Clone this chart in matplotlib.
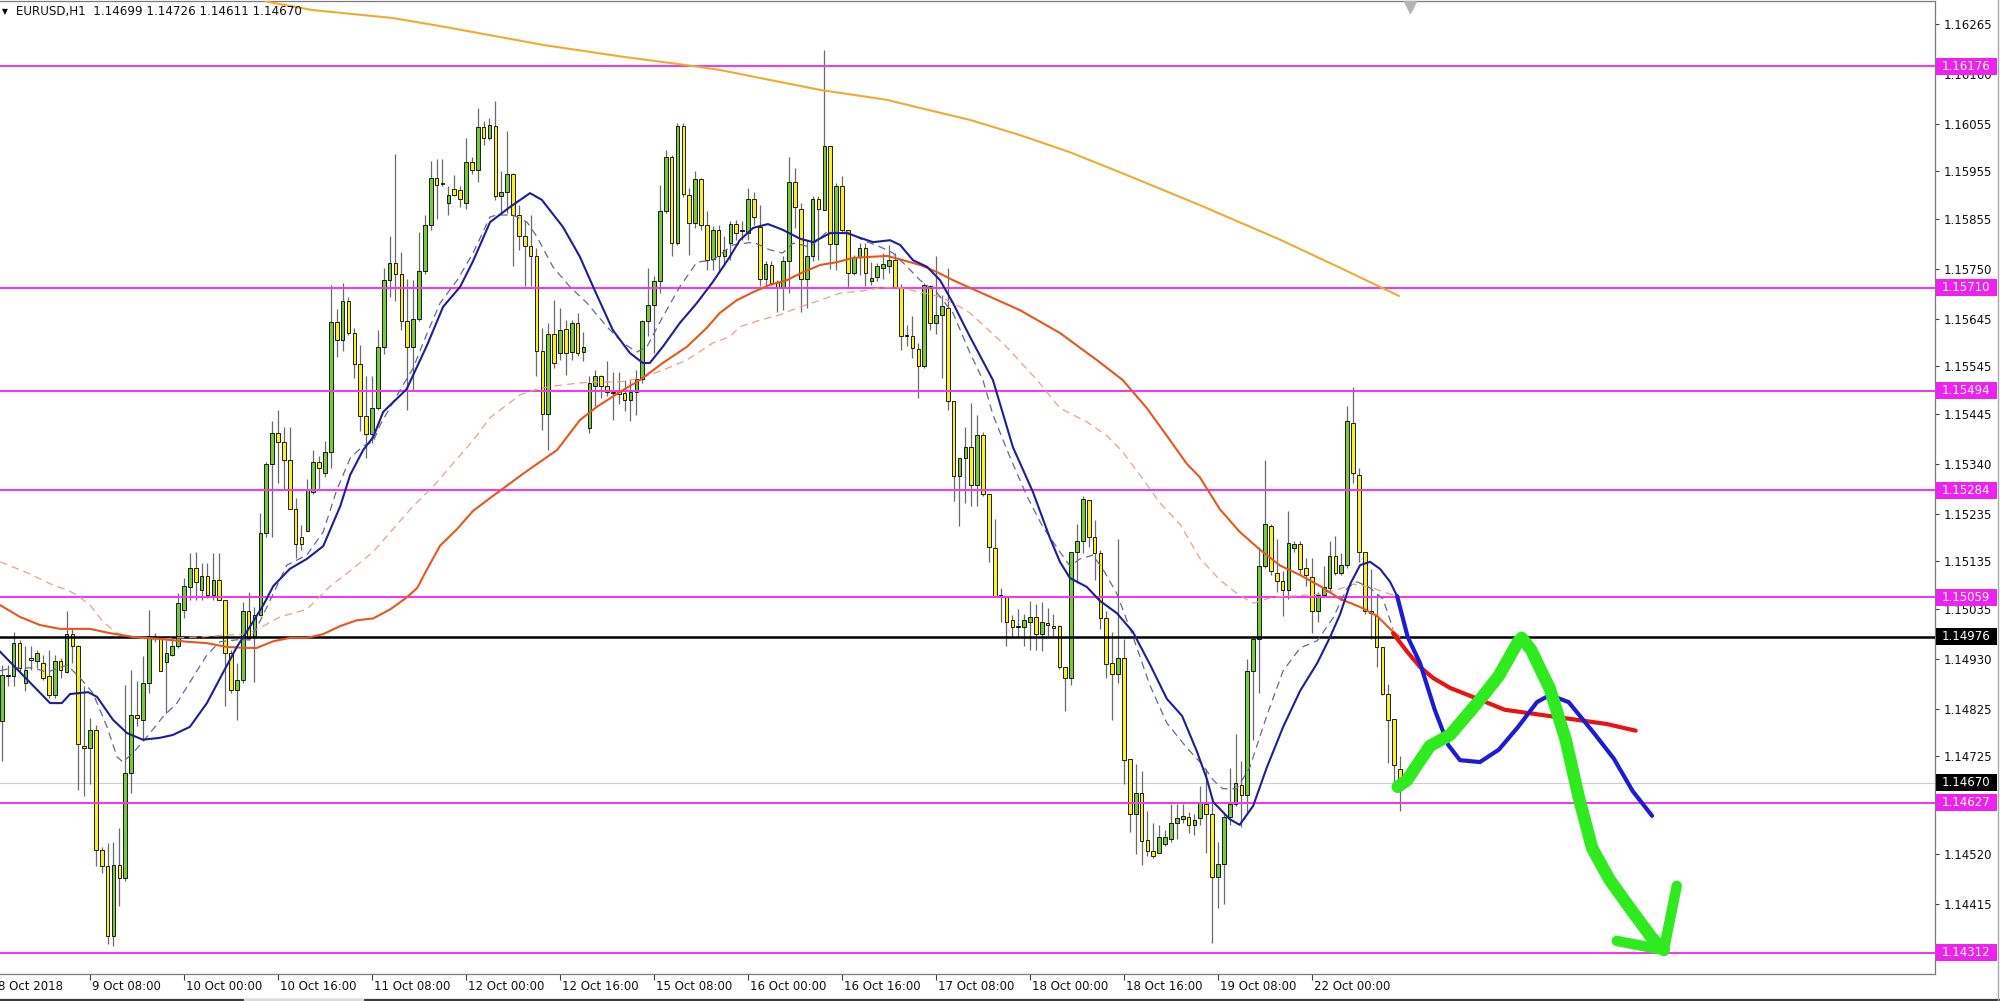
import matplotlib.pyplot as plt
import matplotlib.transforms as mtransforms
from matplotlib.patches import Rectangle
from matplotlib.lines import Line2D
import numpy as np

# EURUSD H1 candles, 8 Oct 17:00 .. 22 Oct 15:00
opens = [1.14799, 1.14893, 1.14893, 1.14963, 1.14880, 1.14931, 1.14925, 1.14921,
         1.14893, 1.14855, 1.14925, 1.14903, 1.14982, 1.14956, 1.14746, 1.14742,
         1.14781, 1.14529, 1.14494, 1.14347, 1.14497, 1.14469, 1.14690, 1.14813,
         1.14802, 1.14879, 1.14977, 1.14971, 1.14924, 1.14939, 1.14956, 1.15033,
         1.15080, 1.15120, 1.15075, 1.15104, 1.15065, 1.15095, 1.15054, 1.14942,
         1.14865, 1.14886, 1.15030, 1.14978, 1.15022, 1.15195, 1.15340, 1.15405,
         1.15385, 1.15348, 1.15244, 1.15187, 1.15199, 1.15280, 1.15344, 1.15320,
         1.15364, 1.15638, 1.15600, 1.15682, 1.15616, 1.15550, 1.15441, 1.15403,
         1.15457, 1.15586, 1.15727, 1.15763, 1.15739, 1.15640, 1.15586, 1.15644,
         1.15745, 1.15841, 1.15940, 1.15930, 1.15889, 1.15917, 1.15915, 1.15889,
         1.15974, 1.15958, 1.16049, 1.16025, 1.16050, 1.15902, 1.15912, 1.15950,
         1.15864, 1.15818, 1.15797, 1.15776, 1.15577, 1.15444, 1.15612, 1.15573,
         1.15623, 1.15574, 1.15637, 1.15574, 1.15416, 1.15503, 1.15525, 1.15504,
         1.15492, 1.15494, 1.15489, 1.15474, 1.15492, 1.15518, 1.15641, 1.15674,
         1.15724, 1.15872, 1.15986, 1.15804, 1.16050, 1.15906, 1.15846, 1.15938,
         1.15843, 1.15770, 1.15832, 1.15776, 1.15804, 1.15844, 1.15830, 1.15826,
         1.15897, 1.15838, 1.15728, 1.15758, 1.15723, 1.15710, 1.15767, 1.15932,
         1.15875, 1.15729, 1.15776, 1.15896, 1.15873, 1.16008, 1.15803, 1.15923,
         1.15831, 1.15741, 1.15775, 1.15794, 1.15724, 1.15732, 1.15752, 1.15756,
         1.15769, 1.15712, 1.15609, 1.15608, 1.15581, 1.15545, 1.15714, 1.15636,
         1.15653, 1.15667, 1.15472, 1.15314, 1.15353, 1.15376, 1.15295, 1.15400,
         1.15277, 1.15163, 1.15063, 1.15061, 1.15012, 1.14997, 1.14997, 1.15007,
         1.15017, 1.14982, 1.15005, 1.14998, 1.14998, 1.14912, 1.14890, 1.15155,
         1.15177, 1.15264, 1.15186, 1.15152, 1.15016, 1.14921, 1.14898, 1.14931,
         1.14720, 1.14603, 1.14649, 1.14550, 1.14526, 1.14522, 1.14541, 1.14552,
         1.14585, 1.14593, 1.14598, 1.14580, 1.14596, 1.14625, 1.14603, 1.14471,
         1.14498, 1.14597, 1.14625, 1.14664, 1.14644, 1.14905, 1.14972, 1.15126,
         1.15209, 1.15110, 1.15093, 1.15075, 1.15162, 1.15172, 1.15120, 1.15103,
         1.15031, 1.15065, 1.15079, 1.15146, 1.15110, 1.15128, 1.15426, 1.15316,
         1.15154, 1.15031, 1.15020, 1.14954, 1.14856, 1.14804, 1.14699]
highs = [1.14918, 1.14918, 1.14987, 1.14970, 1.14956, 1.14956, 1.14949, 1.14938,
         1.14949, 1.14938, 1.14931, 1.15030, 1.14995, 1.14960, 1.14872, 1.14806,
         1.14790, 1.14535, 1.14543, 1.14546, 1.14575, 1.14876, 1.14907, 1.14883,
         1.14935, 1.15033, 1.14985, 1.14975, 1.14970, 1.14970, 1.15068, 1.15100,
         1.15152, 1.15155, 1.15131, 1.15131, 1.15152, 1.15152, 1.15054, 1.14949,
         1.14921, 1.15050, 1.15071, 1.15040, 1.15236, 1.15344, 1.15429, 1.15453,
         1.15417, 1.15417, 1.15268, 1.15211, 1.15308, 1.15368, 1.15356, 1.15389,
         1.15715, 1.15666, 1.15720, 1.15690, 1.15626, 1.15590, 1.15525, 1.15525,
         1.15622, 1.15751, 1.15819, 1.15992, 1.15785, 1.15728, 1.15727, 1.15827,
         1.15863, 1.15976, 1.15980, 1.15980, 1.15924, 1.15948, 1.15925, 1.16025,
         1.15985, 1.16089, 1.16061, 1.16067, 1.16102, 1.15955, 1.16039, 1.15952,
         1.15885, 1.15850, 1.15864, 1.15794, 1.15626, 1.15636, 1.15685, 1.15668,
         1.15643, 1.15643, 1.15656, 1.15618, 1.15524, 1.15538, 1.15527, 1.15556,
         1.15534, 1.15534, 1.15517, 1.15517, 1.15538, 1.15643, 1.15751, 1.15734,
         1.15927, 1.16000, 1.15990, 1.16056, 1.16056, 1.15920, 1.15955, 1.15940,
         1.15871, 1.15839, 1.15842, 1.15818, 1.15850, 1.15853, 1.15850, 1.15919,
         1.15912, 1.15884, 1.15766, 1.15766, 1.15727, 1.15776, 1.15986, 1.15962,
         1.15888, 1.15811, 1.15903, 1.15903, 1.16210, 1.16008, 1.15930, 1.15944,
         1.15832, 1.15778, 1.15805, 1.15804, 1.15765, 1.15763, 1.15783, 1.15801,
         1.15783, 1.15717, 1.15632, 1.15650, 1.15594, 1.15720, 1.15716, 1.15776,
         1.15695, 1.15752, 1.15472, 1.15353, 1.15417, 1.15468, 1.15442, 1.15406,
         1.15277, 1.15225, 1.15078, 1.15061, 1.15023, 1.15034, 1.15024, 1.15052,
         1.15045, 1.15049, 1.15037, 1.15024, 1.15001, 1.14912, 1.15155, 1.15214,
         1.15273, 1.15264, 1.15222, 1.15159, 1.15030, 1.14986, 1.15181, 1.14971,
         1.14720, 1.14710, 1.14695, 1.14611, 1.14585, 1.14581, 1.14570, 1.14625,
         1.14625, 1.14625, 1.14607, 1.14603, 1.14662, 1.14699, 1.14640, 1.14546,
         1.14609, 1.14700, 1.14771, 1.14715, 1.14929, 1.14972, 1.15166, 1.15347,
         1.15213, 1.15181, 1.15114, 1.15241, 1.15178, 1.15178, 1.15142, 1.15142,
         1.15071, 1.15126, 1.15178, 1.15189, 1.15152, 1.15462, 1.15501, 1.15332,
         1.15154, 1.15118, 1.15067, 1.14954, 1.14877, 1.14804, 1.14726]
lows = [1.14715, 1.14872, 1.14872, 1.14903, 1.14862, 1.14907, 1.14910, 1.14886,
        1.14848, 1.14848, 1.14890, 1.14900, 1.14921, 1.14655, 1.14641, 1.14666,
        1.14494, 1.14480, 1.14330, 1.14326, 1.14410, 1.14462, 1.14648, 1.14788,
        1.14760, 1.14858, 1.14965, 1.14904, 1.14816, 1.14935, 1.14952, 1.15016,
        1.15054, 1.15054, 1.15054, 1.15058, 1.15054, 1.15054, 1.14830, 1.14858,
        1.14802, 1.14879, 1.14970, 1.14881, 1.15020, 1.15187, 1.15187, 1.15300,
        1.15288, 1.15244, 1.15143, 1.15159, 1.15199, 1.15276, 1.15284, 1.15312,
        1.15332, 1.15564, 1.15578, 1.15611, 1.15521, 1.15409, 1.15352, 1.15384,
        1.15453, 1.15570, 1.15690, 1.15682, 1.15622, 1.15453, 1.15493, 1.15640,
        1.15740, 1.15831, 1.15855, 1.15925, 1.15863, 1.15902, 1.15880, 1.15876,
        1.15950, 1.15932, 1.16010, 1.16021, 1.15895, 1.15867, 1.15867, 1.15755,
        1.15790, 1.15713, 1.15713, 1.15524, 1.15412, 1.15370, 1.15541, 1.15559,
        1.15527, 1.15559, 1.15566, 1.15556, 1.15405, 1.15461, 1.15479, 1.15482,
        1.15433, 1.15465, 1.15450, 1.15429, 1.15443, 1.15510, 1.15608, 1.15573,
        1.15699, 1.15867, 1.15776, 1.15800, 1.15900, 1.15780, 1.15835, 1.15832,
        1.15748, 1.15748, 1.15741, 1.15755, 1.15769, 1.15811, 1.15811, 1.15811,
        1.15843, 1.15713, 1.15713, 1.15716, 1.15660, 1.15664, 1.15699, 1.15836,
        1.15660, 1.15667, 1.15766, 1.15769, 1.15873, 1.15750, 1.15748, 1.15825,
        1.15710, 1.15737, 1.15737, 1.15714, 1.15716, 1.15724, 1.15728, 1.15741,
        1.15710, 1.15580, 1.15587, 1.15562, 1.15478, 1.15541, 1.15622, 1.15612,
        1.15520, 1.15454, 1.15262, 1.15209, 1.15258, 1.15251, 1.15251, 1.15273,
        1.15133, 1.15063, 1.15008, 1.14957, 1.14975, 1.14975, 1.14957, 1.14949,
        1.14949, 1.14946, 1.14979, 1.14975, 1.14909, 1.14821, 1.14876, 1.15089,
        1.15152, 1.15166, 1.15096, 1.14993, 1.14890, 1.14802, 1.14880, 1.14666,
        1.14567, 1.14519, 1.14497, 1.14515, 1.14511, 1.14522, 1.14537, 1.14545,
        1.14552, 1.14585, 1.14563, 1.14559, 1.14581, 1.14522, 1.14332, 1.14407,
        1.14415, 1.14581, 1.14621, 1.14577, 1.14605, 1.14759, 1.14858, 1.15120,
        1.15106, 1.15071, 1.15020, 1.15055, 1.15154, 1.15106, 1.15083, 1.14984,
        1.15008, 1.15061, 1.15071, 1.15106, 1.15106, 1.15122, 1.15300, 1.15134,
        1.15024, 1.14972, 1.14913, 1.14854, 1.14711, 1.14672, 1.14611]
closes = [1.14897, 1.14897, 1.14963, 1.14910, 1.14907, 1.14927, 1.14942, 1.14890,
          1.14855, 1.14925, 1.14907, 1.14982, 1.14956, 1.14750, 1.14742, 1.14781,
          1.14529, 1.14494, 1.14347, 1.14497, 1.14469, 1.14690, 1.14813, 1.14806,
          1.14879, 1.14977, 1.14972, 1.14904, 1.14942, 1.14956, 1.15048, 1.15083,
          1.15120, 1.15092, 1.15104, 1.15065, 1.15095, 1.15054, 1.14942, 1.14865,
          1.14886, 1.15030, 1.14974, 1.15022, 1.15195, 1.15340, 1.15405, 1.15385,
          1.15348, 1.15244, 1.15171, 1.15171, 1.15284, 1.15344, 1.15332, 1.15364,
          1.15638, 1.15600, 1.15682, 1.15616, 1.15550, 1.15441, 1.15403, 1.15457,
          1.15586, 1.15727, 1.15763, 1.15739, 1.15640, 1.15586, 1.15644, 1.15745,
          1.15841, 1.15940, 1.15926, 1.15928, 1.15905, 1.15905, 1.15897, 1.15974,
          1.15958, 1.16049, 1.16025, 1.16053, 1.15902, 1.15912, 1.15950, 1.15864,
          1.15818, 1.15797, 1.15776, 1.15577, 1.15444, 1.15612, 1.15552, 1.15622,
          1.15573, 1.15635, 1.15573, 1.15586, 1.15509, 1.15524, 1.15503, 1.15492,
          1.15489, 1.15487, 1.15474, 1.15492, 1.15518, 1.15641, 1.15674, 1.15724,
          1.15872, 1.15986, 1.15804, 1.16050, 1.15908, 1.15846, 1.15938, 1.15843,
          1.15769, 1.15832, 1.15776, 1.15790, 1.15844, 1.15825, 1.15830, 1.15897,
          1.15859, 1.15728, 1.15760, 1.15721, 1.15712, 1.15767, 1.15932, 1.15880,
          1.15729, 1.15776, 1.15896, 1.15875, 1.16008, 1.15803, 1.15923, 1.15831,
          1.15742, 1.15775, 1.15794, 1.15742, 1.15731, 1.15756, 1.15760, 1.15769,
          1.15712, 1.15609, 1.15609, 1.15584, 1.15545, 1.15716, 1.15636, 1.15653,
          1.15671, 1.15472, 1.15314, 1.15353, 1.15376, 1.15295, 1.15400, 1.15277,
          1.15166, 1.15063, 1.15063, 1.15008, 1.14997, 1.14997, 1.15012, 1.15019,
          1.14982, 1.15008, 1.15002, 1.14995, 1.14912, 1.14890, 1.15155, 1.15177,
          1.15266, 1.15186, 1.15152, 1.15016, 1.14920, 1.14898, 1.14931, 1.14717,
          1.14603, 1.14649, 1.14548, 1.14526, 1.14515, 1.14556, 1.14556, 1.14585,
          1.14595, 1.14600, 1.14581, 1.14592, 1.14627, 1.14603, 1.14471, 1.14498,
          1.14597, 1.14625, 1.14668, 1.14644, 1.14905, 1.14972, 1.15126, 1.15213,
          1.15114, 1.15093, 1.15075, 1.15174, 1.15172, 1.15118, 1.15106, 1.15031,
          1.15065, 1.15080, 1.15146, 1.15110, 1.15128, 1.15430, 1.15320, 1.15154,
          1.15031, 1.15027, 1.14954, 1.14856, 1.14802, 1.14706, 1.14670]

# time axis labels (bar number from the first candle)
x_labels = ["8 Oct 2018", "9 Oct 08:00", "10 Oct 00:00", "10 Oct 16:00", "11 Oct 08:00",
            "12 Oct 00:00", "12 Oct 16:00", "15 Oct 08:00", "16 Oct 00:00", "16 Oct 16:00",
            "17 Oct 08:00", "18 Oct 00:00", "18 Oct 16:00", "19 Oct 08:00", "22 Oct 00:00"]
x_label_bars = [-1, 15, 31, 47, 63, 79, 95, 111, 127, 143, 159, 175, 191, 207, 223]

# 1.14620 sits fully under the 1.14627 tag, so it is left out
price_ticks = [1.16265, 1.16160, 1.16055, 1.15955, 1.15855, 1.15750, 1.15645, 1.15545,
               1.15445, 1.15340, 1.15235, 1.15135, 1.15035, 1.14930, 1.14825, 1.14725,
               1.14520, 1.14415, 1.14315]

levels = [1.16176, 1.15710, 1.15494, 1.15284, 1.15059, 1.14627, 1.14312]
black_level = 1.14976
last_price = 1.14670
title = "EURUSD,H1  1.14699 1.14726 1.14611 1.14670"

# indicator lines: (bar, price)
ma_fast = [(-0.3, 1.14945), (8.2, 1.14837), (10.2, 1.14837), (11.6, 1.14856), (14.7, 1.14860),
           (16.2, 1.14850), (18.9, 1.14802), (21.3, 1.14774), (24.0, 1.14760), (26.9, 1.14764),
           (29.1, 1.14770), (32.0, 1.14787), (34.9, 1.14837), (37.6, 1.14900), (40.0, 1.14955),
           (42.2, 1.14997), (44.5, 1.15043), (46.2, 1.15083), (49.0, 1.15119), (51.9, 1.15140),
           (54.7, 1.15167), (57.6, 1.15251), (59.3, 1.15317), (61.5, 1.15369), (63.2, 1.15396),
           (64.9, 1.15449), (68.9, 1.15497), (72.4, 1.15590), (75.1, 1.15670), (78.0, 1.15712),
           (80.2, 1.15766), (83.1, 1.15848), (86.5, 1.15880), (89.9, 1.15909), (91.9, 1.15895),
           (95.5, 1.15838), (98.4, 1.15775), (100.9, 1.15705), (104.0, 1.15621), (106.9, 1.15573),
           (109.1, 1.15552), (110.3, 1.15552), (112.5, 1.15586), (115.4, 1.15636), (118.3, 1.15678),
           (121.0, 1.15722), (123.9, 1.15775), (125.6, 1.15810), (127.9, 1.15836), (130.4, 1.15844),
           (132.9, 1.15832), (135.9, 1.15813), (138.1, 1.15806), (141.0, 1.15825), (143.9, 1.15825),
           (146.1, 1.15815), (148.3, 1.15806), (151.2, 1.15810), (152.9, 1.15800), (155.1, 1.15768),
           (157.5, 1.15754), (159.7, 1.15726), (161.9, 1.15678), (163.6, 1.15636), (164.8, 1.15607),
           (168.7, 1.15516), (172.1, 1.15375), (175.5, 1.15281), (178.4, 1.15184), (180.1, 1.15134),
           (181.8, 1.15100), (184.7, 1.15081), (186.9, 1.15052), (189.8, 1.15026), (192.5, 1.14987),
           (195.4, 1.14919), (198.3, 1.14846), (200.9, 1.14810), (203.4, 1.14736), (205.1, 1.14678),
           (206.2, 1.14629), (209.0, 1.14593), (210.7, 1.14581), (213.0, 1.14621), (215.3, 1.14701),
           (218.1, 1.14787), (221.0, 1.14863), (223.9, 1.14921), (226.1, 1.14976), (227.8, 1.15024),
           (229.5, 1.15087), (231.2, 1.15127), (232.9, 1.15134), (234.6, 1.15119), (236.3, 1.15092),
           (237.5, 1.15062)]

ma_fast_dash = [(-0.3, 1.14905), (1.9, 1.14911), (5.3, 1.14911), (7.7, 1.14902), (11.1, 1.14917),
                (13.3, 1.14890), (15.5, 1.14858), (17.9, 1.14787), (19.6, 1.14724), (20.6, 1.14713),
                (22.3, 1.14732), (24.7, 1.14766), (27.4, 1.14808), (29.8, 1.14837), (32.0, 1.14881),
                (34.9, 1.14938), (37.1, 1.14966), (40.0, 1.14970), (42.2, 1.14970), (43.9, 1.15008),
                (46.2, 1.15067), (48.5, 1.15127), (51.9, 1.15148), (54.7, 1.15197), (57.0, 1.15285),
                (59.3, 1.15352), (61.5, 1.15378), (63.2, 1.15386), (64.4, 1.15422), (67.3, 1.15485),
                (70.0, 1.15541), (72.4, 1.15615), (74.6, 1.15678), (77.5, 1.15726), (80.2, 1.15783),
                (83.1, 1.15859), (84.3, 1.15863), (87.0, 1.15863), (89.4, 1.15848), (91.1, 1.15817),
                (93.8, 1.15754), (96.7, 1.15712), (99.6, 1.15678), (103.0, 1.15628), (105.7, 1.15594),
                (108.1, 1.15575), (109.8, 1.15586), (112.5, 1.15649), (115.4, 1.15712), (118.3, 1.15764),
                (121.0, 1.15768), (124.4, 1.15800), (127.9, 1.15806), (130.7, 1.15790), (132.9, 1.15783),
                (134.7, 1.15804), (137.6, 1.15796), (140.4, 1.15827), (143.9, 1.15827), (146.6, 1.15810),
                (149.5, 1.15796), (151.7, 1.15783), (154.1, 1.15754), (156.3, 1.15726), (159.2, 1.15699),
                (161.9, 1.15657), (164.8, 1.15573), (167.0, 1.15516), (168.7, 1.15443), (171.6, 1.15354),
                (174.5, 1.15272), (177.2, 1.15207), (180.1, 1.15155), (181.8, 1.15125), (183.5, 1.15140),
                (185.7, 1.15148), (187.4, 1.15119), (189.8, 1.15067), (192.5, 1.14978), (195.4, 1.14875),
                (198.3, 1.14795), (201.7, 1.14743), (204.4, 1.14707), (206.2, 1.14675), (207.8, 1.14657),
                (210.2, 1.14657), (212.4, 1.14701), (215.3, 1.14810), (218.1, 1.14905), (221.0, 1.14953),
                (223.9, 1.14968), (226.6, 1.15016), (229.0, 1.15079), (230.7, 1.15092), (232.9, 1.15079),
                (235.1, 1.15056), (236.8, 1.14993)]

ma_slow = [(-0.3, 1.15043), (3.1, 1.15018), (6.5, 1.15001), (9.9, 1.14993), (15.0, 1.14993),
           (18.4, 1.14984), (22.3, 1.14976), (26.9, 1.14972), (31.5, 1.14966), (34.9, 1.14963),
           (38.3, 1.14955), (41.7, 1.14953), (43.4, 1.14953), (46.2, 1.14967), (49.0, 1.14974),
           (51.9, 1.14974), (54.7, 1.14982), (57.6, 1.14999), (60.4, 1.15011), (63.2, 1.15015),
           (66.1, 1.15034), (68.9, 1.15059), (70.7, 1.15079), (72.4, 1.15119), (74.6, 1.15168),
           (77.5, 1.15203), (80.2, 1.15241), (83.1, 1.15268), (88.7, 1.15319), (94.5, 1.15369),
           (98.4, 1.15432), (101.3, 1.15460), (105.2, 1.15491), (108.6, 1.15516), (112.5, 1.15552),
           (116.6, 1.15586), (120.0, 1.15626), (122.2, 1.15657), (125.1, 1.15684), (127.9, 1.15701),
           (130.7, 1.15716), (133.6, 1.15726), (136.4, 1.15743), (139.3, 1.15758), (142.2, 1.15764),
           (144.9, 1.15773), (147.8, 1.15775), (150.7, 1.15777), (153.4, 1.15768), (156.3, 1.15758),
           (159.2, 1.15743), (161.9, 1.15726), (164.8, 1.15710), (173.3, 1.15663), (180.1, 1.15615),
           (186.4, 1.15558), (190.8, 1.15516), (194.9, 1.15457), (198.3, 1.15399), (201.7, 1.15340),
           (203.9, 1.15312), (207.3, 1.15245), (210.7, 1.15197), (214.2, 1.15159), (217.6, 1.15126),
           (221.0, 1.15106), (224.4, 1.15083), (227.8, 1.15056), (231.2, 1.15039), (234.1, 1.15020),
           (236.3, 1.14993), (237.9, 1.14976)]

ma_slow_dash = [(-0.3, 1.15134), (4.3, 1.15111), (8.7, 1.15085), (11.1, 1.15075), (12.8, 1.15064),
                (15.0, 1.15043), (17.2, 1.15008), (19.6, 1.14984), (22.3, 1.14976), (25.7, 1.14970),
                (29.8, 1.14974), (33.7, 1.14976), (38.3, 1.14980), (41.7, 1.14982), (43.9, 1.14995),
                (47.3, 1.15018), (51.9, 1.15034), (55.9, 1.15083), (59.3, 1.15115), (63.2, 1.15155),
                (66.6, 1.15203), (70.0, 1.15251), (73.4, 1.15292), (76.8, 1.15341), (80.2, 1.15389),
                (83.1, 1.15437), (84.8, 1.15453), (88.2, 1.15485), (91.6, 1.15499), (95.5, 1.15506),
                (100.1, 1.15512), (105.2, 1.15512), (108.6, 1.15520), (112.5, 1.15537), (116.6, 1.15558),
                (121.0, 1.15594), (123.9, 1.15607), (125.6, 1.15628), (129.0, 1.15642), (132.4, 1.15653),
                (135.9, 1.15670), (139.3, 1.15684), (142.7, 1.15699), (146.1, 1.15703), (149.5, 1.15710),
                (152.9, 1.15710), (156.3, 1.15701), (159.7, 1.15691), (163.1, 1.15670), (164.8, 1.15657),
                (170.7, 1.15590), (176.2, 1.15516), (180.1, 1.15457), (184.7, 1.15428), (188.1, 1.15399),
                (190.8, 1.15365), (193.7, 1.15317), (197.1, 1.15258), (200.5, 1.15214), (203.9, 1.15142),
                (207.3, 1.15096), (210.7, 1.15063), (213.0, 1.15047), (216.4, 1.15060), (221.0, 1.15063),
                (224.4, 1.15066), (227.3, 1.15075), (230.0, 1.15087), (232.9, 1.15081), (235.1, 1.15071),
                (237.1, 1.15063)]

ma_200 = [(38.8, 1.16347), (45.3, 1.16311), (52.8, 1.16294), (66.6, 1.16277), (75.6, 1.16258),
          (92.4, 1.16220), (106.1, 1.16195), (116.6, 1.16178), (122.2, 1.16168), (130.7, 1.16147),
          (139.3, 1.16126), (150.7, 1.16105), (156.3, 1.16088), (164.8, 1.16063), (173.3, 1.16031),
          (181.8, 1.15995), (190.3, 1.15953), (203.9, 1.15884), (217.6, 1.15811), (227.8, 1.15752),
          (237.8, 1.15693)]

# hand drawn projection strokes
hand_blue = [(237.5, 1.15062), (239.3, 1.14976), (241.4, 1.14921), (243.9, 1.14823), (246.2, 1.14749),
             (248.2, 1.14717), (251.6, 1.14713), (254.8, 1.14739), (258.1, 1.14787), (261.3, 1.14839),
             (263.5, 1.14854), (266.7, 1.14839), (271.0, 1.14774), (274.4, 1.14720), (277.6, 1.14652),
             (280.9, 1.14600)]
hand_red = [(236.8, 1.14984), (239.2, 1.14945), (241.4, 1.14913), (243.6, 1.14890), (246.5, 1.14869),
            (251.6, 1.14844), (255.8, 1.14823), (264.5, 1.14808), (273.2, 1.14793), (278.1, 1.14779)]
green_path = [(237.6, 1.14661), (239.2, 1.14675), (240.9, 1.14707), (243.1, 1.14747), (246.5, 1.14770),
              (249.0, 1.14806), (251.6, 1.14844), (254.8, 1.14894), (258.1, 1.14966), (258.7, 1.14974),
              (260.3, 1.14949), (263.5, 1.14867), (266.2, 1.14760), (268.4, 1.14640), (270.7, 1.14532),
              (273.7, 1.14465), (277.6, 1.14398), (280.9, 1.14343), (282.9, 1.14318)]
green_head = [(274.9, 1.14337), (282.9, 1.14318), (285.1, 1.14453)]
shift_bar = 239.7

W, H = 2000, 1001
fig = plt.figure(figsize=(W / 100, H / 100), dpi=100)
ax = fig.add_axes([0, 1 - 974 / H, 1935 / W, 973 / H])
ax.set_xlim(-0.32, 329.06)
ax.set_ylim(1.142675, 1.163129)

# candles
o = np.array(opens); c = np.array(closes)
h = np.array(highs); l = np.array(lows)
idx = np.arange(len(o))
up = c >= o
ax.vlines(idx, l, h, color='#6a6a6a', lw=0.9, zorder=3)
lo = np.minimum(o, c)
hh = np.maximum(np.abs(c - o), 0.00001)
ax.bar(idx[up], hh[up], bottom=lo[up], width=0.62, color='#78c83c',
       edgecolor='black', lw=0.6, zorder=4)
ax.bar(idx[~up], hh[~up], bottom=lo[~up], width=0.62, color='#f8ee30',
       edgecolor='black', lw=0.6, zorder=4)

# levels
ax.axhline(last_price, color='#cfcfcf', lw=0.8, zorder=1)
for lv in levels:
    ax.axhline(lv, color='#ec3cec', lw=1.5, zorder=5)
ax.axhline(black_level, color='black', lw=1.8, zorder=5)


def line(pts, **kw):
    xs, ys = zip(*pts)
    ax.plot(xs, ys, **kw)


line(ma_200, color='#f0aa30', lw=1.5, zorder=6)
line(ma_slow_dash, color='#e8a282', lw=0.9, ls=(0, (6, 4)), zorder=6)
line(ma_slow, color='#e8561e', lw=1.5, zorder=6)
line(ma_fast_dash, color='#66669a', lw=0.9, ls=(0, (6, 4)), zorder=6)
line(ma_fast, color='#1e1e9a', lw=1.5, zorder=7)

line(hand_red, color='#e81414', lw=3.0, zorder=8, solid_capstyle='round')
line(hand_blue, color='#1c1cd2', lw=3.0, zorder=8, solid_capstyle='round')
line(green_path, color='#2eea1e', lw=9, zorder=9, solid_capstyle='round', solid_joinstyle='round')
line(green_head, color='#2eea1e', lw=7.5, zorder=9, solid_capstyle='round', solid_joinstyle='round')

ax.plot([shift_bar], [1.16300], marker='v', ms=8, color='#b4b4b4', clip_on=False, zorder=9)

# frame
ax.spines['left'].set_visible(False)
for s in ['top', 'right', 'bottom']:
    ax.spines[s].set_color('#7a7a7a')
    ax.spines[s].set_linewidth(0.9)

# price axis
ax.yaxis.tick_right()
ax.set_yticks(price_ticks)
ax.set_yticklabels([f'{t:.5f}' for t in price_ticks])
ax.tick_params(axis='y', length=3, width=0.8, pad=3, labelsize=8.5,
               color='#404040', labelcolor='#111111')

trans = mtransforms.blended_transform_factory(ax.transAxes, ax.transData)
bw = 61 / 1935
bh = 17 / 47570
tags = [(lv, '#ee22ee') for lv in levels] + [(black_level, 'black'), (last_price, 'black')]
for lv, col in tags:
    ax.add_patch(Rectangle((1.0006, lv - bh / 2), bw, bh, transform=trans, facecolor=col,
                           edgecolor='none', clip_on=False, zorder=20))
    ax.text(1942 / 1935, lv, f'{lv:.5f}', transform=trans, color='white', fontsize=8.5,
            va='center', ha='left', clip_on=False, zorder=21)

# time axis
ax.set_xticks([b for b in x_label_bars if b >= 0])
ax.set_xticklabels([])
ax.tick_params(axis='x', length=4, width=0.8, color='#404040')
tx = mtransforms.blended_transform_factory(ax.transData, ax.transAxes)
tx = mtransforms.offset_copy(tx, fig=fig, x=2, y=-12, units='dots')
for b, lab in zip(x_label_bars, x_labels):
    ax.text(b, 0, lab, transform=tx, fontsize=8.5, ha='left', va='center',
            color='#111111', clip_on=False)

fig.text(2 / W, 1 - 12 / H, '▼', fontsize=5.5, va='center', ha='left')
fig.text(16 / W, 1 - 12 / H, title, fontsize=8.6, va='center', ha='left', color='#111111')

fig.add_artist(Line2D([0, 1], [0.6 / H, 0.6 / H], color='#3a3a3a', lw=1.6))
fig.add_artist(Line2D([245 / W, 363 / W], [0.6 / H, 0.6 / H], color='#dcdcdc', lw=1.6))
fig.add_artist(Line2D([1998 / W, 1998 / W], [0, 1], color='#a8a8a8', lw=1))

fig.savefig('out.png', dpi=100, facecolor='white')
